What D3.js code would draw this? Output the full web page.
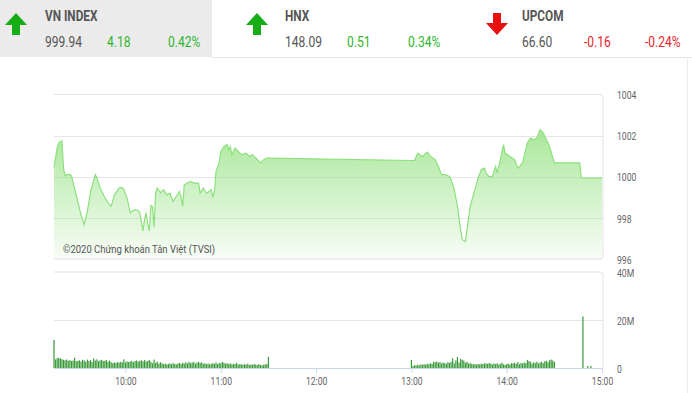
<!DOCTYPE html>
<html>
<head>
<meta charset="utf-8">
<script src="https://cdn.jsdelivr.net/npm/d3@7.9.0/dist/d3.min.js"></script>
<style>
  body { margin: 0; background: #fff; }
  svg { display: block; font-family: Roboto, "Liberation Sans", sans-serif; }
</style>
</head>
<body>
<svg id="chart" width="692" height="393"></svg>
<script>
// header quotes
const indexNames = ["VN INDEX", "HNX", "UPCOM"];
const indexValues = ["999.94", "148.09", "66.60"];
const indexChanges = ["4.18", "0.51", "-0.16"];
const indexPercents = ["0.42%", "0.34%", "-0.24%"];

// intraday VN-Index
const priceTimes = ["9:15","9:17","9:18","9:20","9:21","9:22","9:23","9:25","9:26","9:29",
  "9:32","9:34","9:36","9:38","9:41","9:42","9:44","9:47","9:50","9:51",
  "9:53","9:56","9:58","9:59","10:01","10:03","10:04","10:06","10:08","10:09",
  "10:11","10:12","10:13","10:14","10:15","10:16","10:17","10:18","10:19","10:20",
  "10:22","10:24","10:26","10:28","10:30","10:32","10:34","10:35","10:36","10:37",
  "10:39","10:41","10:43","10:46","10:47","10:49","10:51","10:54","10:55","10:56",
  "10:57","10:59","11:00","11:02","11:04","11:05","11:06","11:07","11:09","11:11",
  "11:13","11:16","11:18","11:20","11:22","11:25","11:27","11:29","11:30",
  "13:00","13:02","13:04","13:07","13:10","13:12","13:15","13:17","13:19","13:21",
  "13:24","13:25","13:27","13:29","13:31","13:32","13:34","13:35","13:37","13:40",
  "13:42","13:44","13:46","13:47","13:49","13:51","13:53","13:54","13:56","13:58",
  "13:59","14:02","14:05","14:07","14:10","14:13","14:15","14:17","14:19","14:21",
  "14:23","14:25","14:27","14:30","14:46","14:47","15:00"];
const priceValues = [1000.44,1001.41,1001.65,1001.75,1000.40,1000.05,1000.10,1000.12,1000.05,999.10,
  998.15,997.67,998.31,999.28,1000.10,999.95,999.47,998.98,998.64,998.56,
  999.12,999.45,999.48,999.37,998.96,998.25,998.31,998.40,998.35,998.25,
  997.37,997.90,998.25,997.70,997.37,998.60,998.55,997.55,999.20,999.45,
  999.22,999.37,999.12,999.20,998.80,999.04,999.28,999.00,998.56,999.61,
  999.69,999.77,999.69,999.69,999.20,999.45,999.20,999.37,999.04,999.28,
  1000.26,1000.67,1001.23,1001.47,1001.56,1001.31,1001.47,1001.07,1001.40,1001.23,
  1001.07,1001.15,1000.99,1001.07,1000.91,1000.67,1000.83,1000.91,1000.91,
  1000.79,1000.79,1001.15,1000.99,1001.20,1000.99,1000.83,1000.50,1000.10,1000.10,
  1000.01,999.85,999.37,998.56,997.42,996.94,996.85,997.42,998.56,999.37,
  999.94,1000.34,1000.42,1000.18,1000.01,1000.01,1000.50,1000.18,1000.83,1001.56,
  1001.15,1000.99,1000.83,1000.42,1000.67,1001.64,1001.88,1001.80,1001.88,1002.29,
  1002.13,1001.80,1001.47,1000.67,1000.67,999.94,999.94];

// volume, millions of shares per minute
const volMorningStart = "9:15";
const volMorning = [11.7,3.6,4.1,4.2,4.0,3.7,3.4,3.2,3.5,3.0,
  3.3,2.9,3.1,4.3,2.8,3.0,3.2,2.7,3.4,3.1,
  2.6,3.5,2.9,3.3,2.5,4.0,3.1,3.6,2.8,3.2,
  3.4,2.9,3.0,3.3,2.6,3.1,2.4,2.0,2.3,2.1,
  2.5,2.2,2.6,2.4,3.6,2.3,2.8,2.5,2.7,3.0,
  2.4,2.9,3.1,2.6,3.0,3.2,2.8,3.3,2.7,2.9,
  3.4,2.6,2.0,3.5,2.2,2.7,1.8,2.4,2.0,1.6,
  1.8,1.5,1.7,1.9,1.6,2.0,1.7,1.5,1.9,2.1,
  1.6,2.2,1.8,2.4,1.9,2.6,2.0,2.3,2.5,1.8,
  2.2,2.6,2.1,2.4,1.7,2.0,1.6,1.9,1.5,1.8,
  2.0,1.7,2.3,1.6,2.1,1.9,2.5,2.2,1.8,2.0,
  1.7,1.9,1.5,1.8,1.6,2.2,1.4,1.7,1.5,1.3,
  1.6,1.4,1.8,1.2,1.5,1.3,1.7,1.4,1.2,1.6,
  1.3,1.1,1.4,1.5,1.7,4.7];
const volAfternoonStart = "13:00";
const volAfternoon = [3.4,0.8,1.2,1.0,1.4,1.1,1.5,1.3,1.6,1.4,
  1.8,1.5,2.0,1.7,2.6,2.4,2.7,2.2,2.5,1.9,
  2.3,2.0,1.8,2.4,2.1,2.6,4.0,1.9,3.2,4.6,
  2.3,3.8,3.4,3.1,2.2,2.6,1.9,2.0,1.7,1.5,
  1.6,1.4,1.7,1.5,1.8,1.6,2.0,1.9,1.7,2.1,
  1.8,1.5,1.9,1.6,2.0,1.4,1.7,2.2,1.5,1.3,
  1.6,1.8,1.4,2.0,1.9,2.2,1.7,2.5,1.6,2.1,
  1.9,2.3,2.0,3.3,2.9,2.6,1.8,2.4,2.0,2.6,
  1.9,2.3,2.6,2.0,2.8,3.0,2.4,3.2,3.5,3.1,
  2.6];
const volCloseTimes = ["14:48", "14:51", "14:53"];
const volClose = [21.5, 0.8, 0.9];

const priceTicks = [996, 998, 1000, 1002, 1004];
const volTicks = [0, 20, 40];
const hourTicks = ["10:00", "11:00", "12:00", "13:00", "14:00", "15:00"];

const parseTime = d3.timeParse("%H:%M");
const svg = d3.select("#chart");

function condense(sel, k) {
  sel.each(function () {
    const w = this.getComputedTextLength();
    d3.select(this).attr("textLength", w * k).attr("lengthAdjust", "spacingAndGlyphs");
  });
}

// ---------- header ----------
const green = "#2db52d", red = "#e5262b", arrowGreen = "#17ad17", arrowRed = "#e81010";
svg.append("rect").attr("x", 0).attr("y", 0).attr("width", 212).attr("height", 57).attr("fill", "#ebebeb");
svg.append("line").attr("x1", 212).attr("x2", 692).attr("y1", 57.5).attr("y2", 57.5).attr("stroke", "#e6e6e6");
svg.append("line").attr("x1", 687.5).attr("x2", 687.5).attr("y1", 57).attr("y2", 393).attr("stroke", "#ececec");

const headerX = [45, 285, 522];
const arrowX = [16, 257, 497];
const colOffsets = [0, 62, 123];

indexNames.forEach((name, i) => {
  const up = !indexChanges[i].startsWith("-");
  const cx = arrowX[i];
  const arrow = up
    ? `M${cx} 13 L${cx + 11} 25 L${cx + 4} 25 L${cx + 4} 35 L${cx - 4} 35 L${cx - 4} 25 L${cx - 11} 25 Z`
    : `M${cx} 35 L${cx + 11} 23 L${cx + 4} 23 L${cx + 4} 13 L${cx - 4} 13 L${cx - 4} 23 L${cx - 11} 23 Z`;
  svg.append("path").attr("d", arrow).attr("fill", up ? arrowGreen : arrowRed);

  svg.append("text").attr("x", headerX[i]).attr("y", 21)
    .attr("font-size", 14).attr("font-weight", "bold").attr("fill", "#555")
    .text(name).call(condense, 0.84);

  const cells = [indexValues[i], indexChanges[i], indexPercents[i]];
  cells.forEach((t, j) => {
    svg.append("text").attr("x", headerX[i] + colOffsets[j]).attr("y", 47)
      .attr("font-size", 14)
      .attr("fill", j === 0 ? "#555" : (up ? green : red))
      .text(t).call(condense, 0.86);
  });
});

// ---------- scales ----------
const left = 54, right = 603;
const x = d3.scaleTime()
  .domain([parseTime("9:15"), parseTime("15:00")])
  .range([left, 602]);
const yPrice = d3.scaleLinear().domain([996, 1004]).range([259, 94.5]);
const yVol = d3.scaleLinear().domain([0, 40]).range([368, 272]);

const prices = priceTimes.map((t, i) => ({ t: parseTime(t), v: priceValues[i] }));

const addMinutes = (start, n) => d3.timeMinute.offset(parseTime(start), n);
const volumes = [
  ...volMorning.map((v, i) => ({ t: addMinutes(volMorningStart, i), v })),
  ...volAfternoon.map((v, i) => ({ t: addMinutes(volAfternoonStart, i), v })),
  ...volClose.map((v, i) => ({ t: parseTime(volCloseTimes[i]), v }))
];

// ---------- price panel ----------
const grad = svg.append("defs").append("linearGradient")
  .attr("id", "priceFill").attr("gradientUnits", "userSpaceOnUse")
  .attr("x1", 0).attr("x2", 0).attr("y1", yPrice(1004)).attr("y2", yPrice(996));
grad.append("stop").attr("offset", 0).attr("stop-color", "#8ee07a").attr("stop-opacity", 0.95);
grad.append("stop").attr("offset", 1).attr("stop-color", "#8ee07a").attr("stop-opacity", 0.06);

svg.append("g").selectAll("line")
  .data(priceTicks.slice(1, -1))
  .join("line")
  .attr("x1", left).attr("x2", right)
  .attr("y1", d => Math.round(yPrice(d)) + 0.5).attr("y2", d => Math.round(yPrice(d)) + 0.5)
  .attr("stroke", "#e6e6e6");

svg.append("path")
  .datum(prices)
  .attr("fill", "url(#priceFill)")
  .attr("d", d3.area().x(d => x(d.t)).y0(yPrice(996)).y1(d => yPrice(d.v)));

svg.append("path")
  .datum(prices)
  .attr("fill", "none")
  .attr("stroke", "#8ee07f")
  .attr("stroke-width", 1.2)
  .attr("d", d3.line().x(d => x(d.t)).y(d => yPrice(d.v)));

// frame: top, right, bottom
svg.append("path")
  .attr("d", `M${left} ${yPrice(1004)} H${right - 3} Q${right} ${yPrice(1004)} ${right} ${yPrice(1004) + 3} V${yPrice(996) - 3} Q${right} ${yPrice(996)} ${right - 3} ${yPrice(996)} H${left}`)
  .attr("fill", "none").attr("stroke", "#e3e3e3");

svg.append("text")
  .attr("x", 63).attr("y", 253)
  .attr("font-size", 11).attr("fill", "#555")
  .text("©2020 Chứng khoán Tân Việt (TVSI)").call(condense, 0.86);

const priceAxis = svg.append("g")
  .attr("transform", `translate(${right + 14},1)`)
  .call(d3.axisRight(yPrice).tickValues(priceTicks).tickFormat(d3.format("d")).tickSize(0).tickPadding(0));
priceAxis.select(".domain").remove();
priceAxis.selectAll("text").attr("font-family", "Roboto").attr("font-size", 10).attr("fill", "#666")
  .call(condense, 0.86);

// ---------- volume panel ----------
svg.append("line")
  .attr("x1", left).attr("x2", right).attr("y1", Math.round(yVol(20)) + 0.5).attr("y2", Math.round(yVol(20)) + 0.5)
  .attr("stroke", "#e6e6e6");
svg.append("path")
  .attr("d", `M${left} ${yVol(40)} H${right - 3} Q${right} ${yVol(40)} ${right} ${yVol(40) + 3} V${yVol(0)}`)
  .attr("fill", "none").attr("stroke", "#e3e3e3");

svg.append("g").selectAll("rect")
  .data(volumes)
  .join("rect")
  .attr("x", d => x(d.t) - 0.6)
  .attr("width", 1.2)
  .attr("y", d => yVol(d.v))
  .attr("height", d => yVol(0) - yVol(d.v))
  .attr("fill", "#3a9a3a");

const xAxis = svg.append("g")
  .attr("transform", `translate(0,${yVol(0)})`)
  .call(d3.axisBottom(x)
    .tickValues(hourTicks.map(parseTime))
    .tickFormat(d3.timeFormat("%H:%M"))
    .tickSize(5).tickPadding(5));
xAxis.select(".domain").attr("stroke", "#ccd6eb").attr("d", `M${left},0.5H${right}`);
xAxis.selectAll(".tick line").attr("stroke", "#ccd6eb");
xAxis.selectAll("text").attr("font-family", "Roboto").attr("font-size", 10).attr("fill", "#666")
  .call(condense, 0.86);

const volAxis = svg.append("g")
  .attr("transform", `translate(${right + 14},1)`)
  .call(d3.axisRight(yVol).tickValues(volTicks).tickSize(0).tickPadding(0)
    .tickFormat(d => d === 0 ? "0" : d + "M"));
volAxis.select(".domain").remove();
volAxis.selectAll("text").attr("font-family", "Roboto").attr("font-size", 10).attr("fill", "#666")
  .call(condense, 0.86);
</script>
</body>
</html>
